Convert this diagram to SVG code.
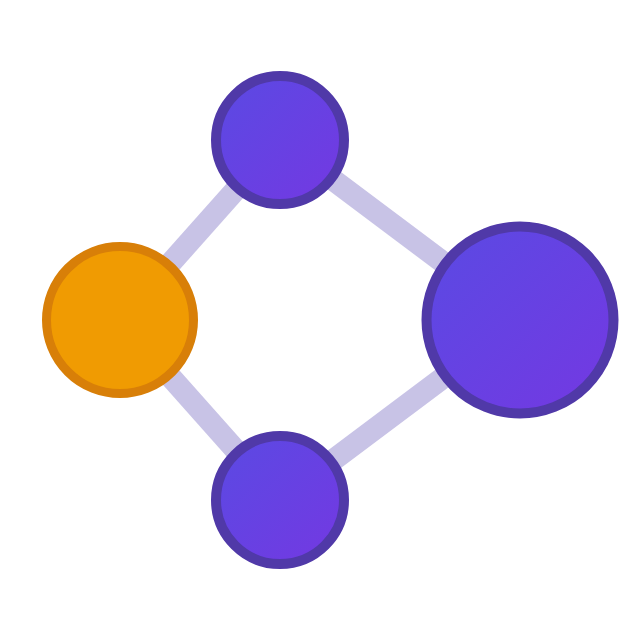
<svg xmlns="http://www.w3.org/2000/svg" width="640" height="640" viewBox="0 0 640 640">
  <defs>
    <linearGradient id="purple" x1="0" y1="0" x2="1" y2="1">
      <stop offset="0" stop-color="#5a4ae3"/>
      <stop offset="1" stop-color="#7438e2"/>
    </linearGradient>
    <style>
      .edge { stroke: #c8c3e6; stroke-width: 22; fill: none; }
      .purple { fill: url(#purple); stroke: #5039a8; stroke-width: 10; }
      .orange { fill: #f09b02; stroke: #d87f08; stroke-width: 9; }
    </style>
  </defs>
  <rect width="640" height="640" fill="#ffffff"/>
  <g id="connectors">
    <line class="edge" x1="120" y1="320" x2="280" y2="140"/>
    <line class="edge" x1="120" y1="320" x2="280" y2="500"/>
    <line class="edge" x1="280" y1="140" x2="520" y2="320"/>
    <line class="edge" x1="280" y1="500" x2="520" y2="320"/>
  </g>
  <g id="node-top"><circle class="purple" cx="280" cy="140" r="64"/></g>
  <g id="node-bottom"><circle class="purple" cx="280" cy="500" r="64"/></g>
  <g id="node-left"><circle class="orange" cx="120" cy="320" r="73.5"/></g>
  <g id="node-right"><circle class="purple" cx="520" cy="320" r="93.5"/></g>
</svg>
